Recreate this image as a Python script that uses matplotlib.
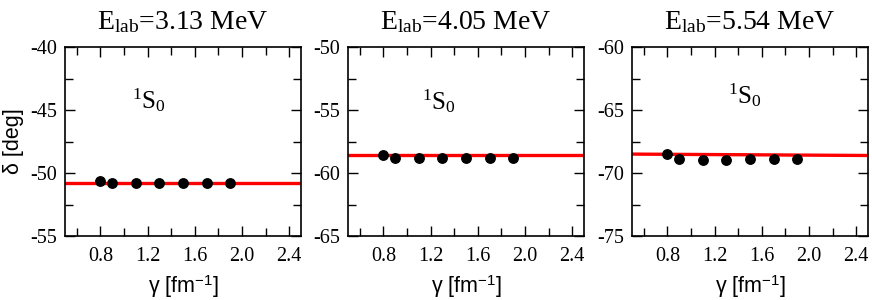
import matplotlib
matplotlib.use("Agg")
import matplotlib.pyplot as plt
from matplotlib.ticker import MultipleLocator, FixedLocator

plt.rcParams['mathtext.fontset'] = 'custom'
plt.rcParams['mathtext.rm'] = 'Liberation Serif'
plt.rcParams['mathtext.sf'] = 'Liberation Sans'
plt.rcParams['mathtext.it'] = 'Liberation Serif:italic'

energies = ["3.13", "4.05", "5.54"]
gamma = [0.8, 0.9, 1.1, 1.3, 1.5, 1.7, 1.9]
delta_1 = [-50.67, -50.78, -50.8, -50.8, -50.8, -50.8, -50.8]
delta_2 = [-58.6, -58.77, -58.78, -58.78, -58.78, -58.77, -58.77]
delta_3 = [-68.5, -68.88, -68.98, -68.95, -68.9, -68.87, -68.85]
line_x = [0.5, 2.5]
line_1 = [-50.82, -50.82]
line_2 = [-58.59, -58.59]
line_3 = [-68.5, -68.61]
ylims = [(-55, -40), (-65, -50), (-75, -60)]
label_pos = [(1.07, -44.9), (1.127, -54.98), (1.317, -64.45)]
xtick_labels = ['0.8', '1.2', '1.6', '2.0', '2.4']

deltas = [delta_1, delta_2, delta_3]
lines = [line_1, line_2, line_3]

fig = plt.figure(figsize=(8.72, 3.0), dpi=100)
lefts = [65/872, 348/872, 632/872]
for i in range(3):
    ax = fig.add_axes([lefts[i], 64/300, 236/872, 189/300])
    ax.plot(line_x, lines[i], color='#ff0000', lw=2.4, zorder=2)
    ax.plot(gamma, deltas[i], 'o', color='black', ms=6.8, zorder=3)
    ax.set_xlim(0.5, 2.5)
    ax.xaxis.set_major_locator(FixedLocator([float(t) for t in xtick_labels]))
    ax.xaxis.set_minor_locator(FixedLocator([0.6, 1.0, 1.4, 1.8, 2.2]))
    ax.set_xticklabels(xtick_labels, family='Liberation Serif')
    lo, hi = ylims[i]
    yt = list(range(lo, hi + 1, 5))
    ax.set_yticks(yt)
    ax.set_yticklabels([str(v) for v in yt], family='Liberation Serif')
    ax.yaxis.set_minor_locator(MultipleLocator(2.5))
    ax.set_ylim(lo, hi)
    ax.tick_params(which='both', direction='in', top=True, right=True, width=1.0)
    ax.tick_params(which='major', length=7)
    ax.tick_params(which='minor', length=6)
    ax.tick_params(axis='x', which='major', labelsize=14.5, pad=8)
    ax.tick_params(axis='y', which='major', labelsize=14.5, pad=6)
    for s in ax.spines.values():
        s.set_linewidth(1.2)
    ax.set_title(r"E$_{\mathrm{lab}}$=" + energies[i] + " MeV", family='Liberation Serif',
                 fontsize=20, pad=13)
    ax.set_xlabel(r"γ [fm$^{\mathsf{-1}}$]", family='Liberation Sans', fontsize=15.5, labelpad=5)
    if i == 0:
        ax.set_ylabel("δ [deg]", family='Liberation Sans', fontsize=15.5, labelpad=4)
    ax.text(label_pos[i][0], label_pos[i][1], r"$^{\mathrm{1}}$S$_{\mathrm{0}}$",
            family='Liberation Serif', fontsize=18, va='baseline', ha='left')

fig.savefig("out.png", dpi=100)
